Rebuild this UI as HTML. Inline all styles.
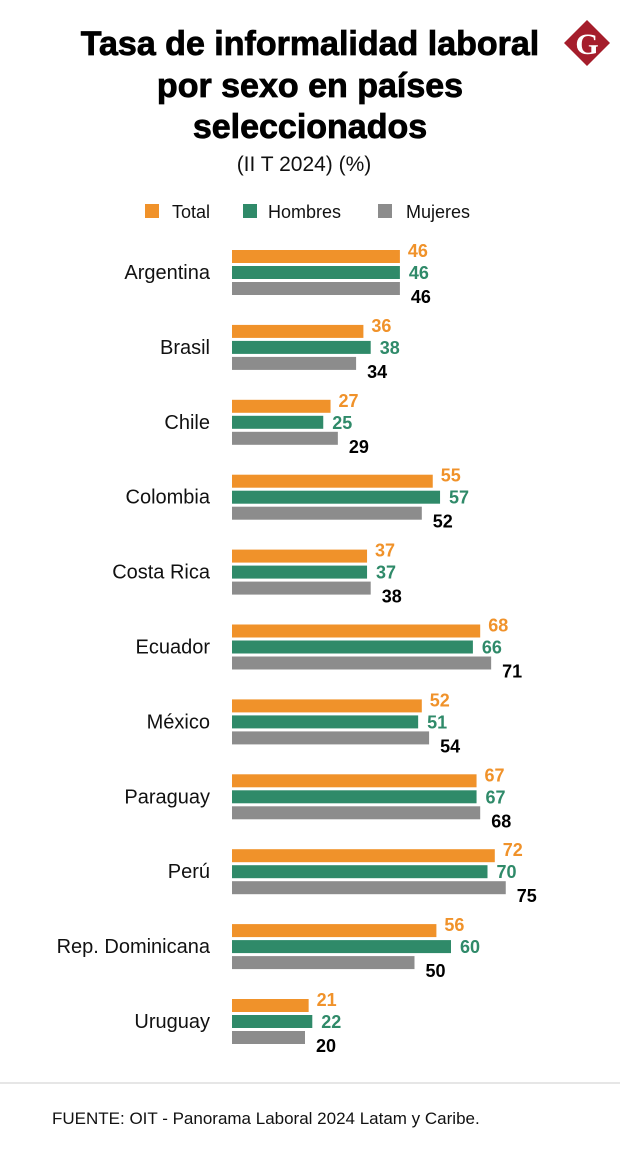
<!DOCTYPE html>
<html><head><meta charset="utf-8"><style>
body{margin:0;width:620px;height:1163px;background:#fff;overflow:hidden;font-family:"Liberation Sans",sans-serif;}
</style></head><body>
<svg id="chart" width="620" height="1163" xmlns="http://www.w3.org/2000/svg">
<g font-family="Liberation Sans" font-weight="bold" font-size="34" text-anchor="middle" fill="#000" stroke="#000" stroke-width="0.8">
<text x="310" y="55">Tasa de informalidad laboral</text>
<text x="310" y="97">por sexo en países</text>
<text x="310" y="138">seleccionados</text>
</g>
<text x="304" y="171" font-size="21" text-anchor="middle" fill="#111">(II T 2024) (%)</text>
<g>
<polygon points="587,20 610,43 587,66 564,43" fill="#a51d2b"/>
<text x="587" y="54" font-family="Liberation Serif" font-weight="bold" font-size="30" fill="#fff" text-anchor="middle">G</text>
</g>
<g font-size="18" fill="#111">
<rect x="145" y="204" width="14" height="14" fill="#f0922a"/>
<text x="172" y="218">Total</text>
<rect x="243" y="204" width="14" height="14" fill="#2f8a69"/>
<text x="268" y="218">Hombres</text>
<rect x="378" y="204" width="14" height="14" fill="#8c8c8c"/>
<text x="406" y="218">Mujeres</text>
</g>
<g id="bars"></g>
<line x1="0" y1="1083" x2="620" y2="1083" stroke="#ccc" stroke-width="1"/>
<text x="52" y="1124" font-size="17" fill="#111">FUENTE: OIT - Panorama Laboral 2024 Latam y Caribe.</text>
</svg>
<script>
const categories=["Argentina","Brasil","Chile","Colombia","Costa Rica","Ecuador","México","Paraguay","Perú","Rep. Dominicana","Uruguay"];
const totalValues=[46,36,27,55,37,68,52,67,72,56,21];
const hombresValues=[46,38,25,57,37,66,51,67,70,60,22];
const mujeresValues=[46,34,29,52,38,71,54,68,75,50,20];
const x0=232, scale=3.65;
const xs=v=>x0+v*scale;
const ys=i=>250+i*74.9;
const g=document.getElementById('bars');
const ns="http://www.w3.org/2000/svg";
const series=[
 {vals:totalValues,color:"#f0922a",label:"#f0922a",off:0,ty:7,dx:8,name:"total"},
 {vals:hombresValues,color:"#2f8a69",label:"#2f8a69",off:16,ty:29,dx:9,name:"hombres"},
 {vals:mujeresValues,color:"#8c8c8c",label:"#000",off:32,ty:53,dx:11,name:"mujeres"}];
categories.forEach((c,i)=>{
 const y=ys(i);
 const t=document.createElementNS(ns,'text');
 
 
 t.setAttribute('x',210);t.setAttribute('y',y+29);
 t.setAttribute('text-anchor','end');t.setAttribute('font-size','20');t.setAttribute('fill','#111');
 t.textContent=c;g.appendChild(t);
 series.forEach(s=>{
  const v=s.vals[i];
  const r=document.createElementNS(ns,'rect');
  
  
  r.setAttribute('x',x0);r.setAttribute('y',y+s.off);
  r.setAttribute('width',xs(v)-x0);r.setAttribute('height',13);
  r.setAttribute('fill',s.color);g.appendChild(r);
  const l=document.createElementNS(ns,'text');
  
  
  l.setAttribute('x',xs(v)+s.dx);l.setAttribute('y',y+s.ty);
  l.setAttribute('font-size','18');l.setAttribute('font-weight','bold');l.setAttribute('fill',s.label);
  l.textContent=v;g.appendChild(l);
 });
});
</script>
</body></html>
